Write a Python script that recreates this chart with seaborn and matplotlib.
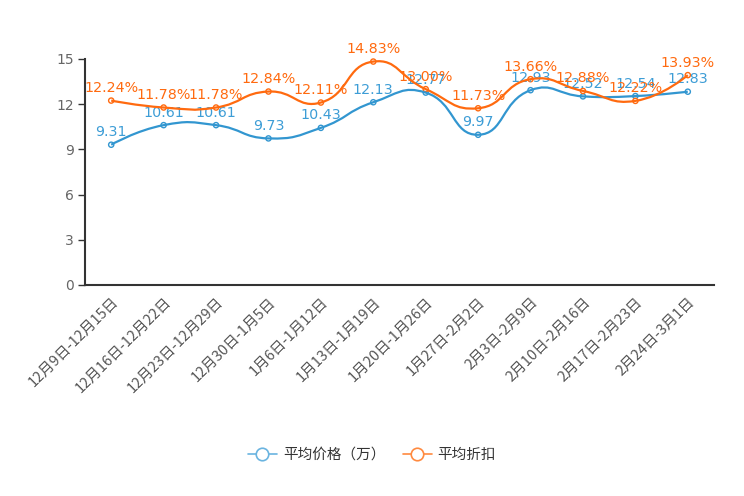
import numpy as np
import pandas as pd
import matplotlib
matplotlib.use("Agg")
import matplotlib.pyplot as plt
from matplotlib.path import Path
from matplotlib.patches import PathPatch
from matplotlib.lines import Line2D
import seaborn as sns

categories = ["12月9日-12月15日", "12月16日-12月22日", "12月23日-12月29日", "12月30日-1月5日",
              "1月6日-1月12日", "1月13日-1月19日", "1月20日-1月26日", "1月27日-2月2日",
              "2月3日-2月9日", "2月10日-2月16日", "2月17日-2月23日", "2月24日-3月1日"]
price = [9.31, 10.61, 10.61, 9.73, 10.43, 12.13, 12.77, 9.97, 12.93, 12.52, 12.54, 12.83]
discount = [12.24, 11.78, 11.78, 12.84, 12.11, 14.83, 13.00, 11.73, 13.66, 12.88, 12.22, 13.93]
series_names = ["平均价格（万）", "平均折扣"]
yticks = [0, 3, 6, 9, 12, 15]

BLUE = "#3296d0"
ORANGE = "#ff6a0f"

sns.set_theme(style="white")
plt.rcParams['font.family'] = ['DejaVu Sans', 'Noto Sans CJK SC']
plt.rcParams['axes.unicode_minus'] = False

fig = plt.figure(figsize=(7.44, 4.96), dpi=100)
ax = fig.add_axes([85/744, 211/496, 629/744, 226/496])

n = len(categories)
xs = np.arange(n)
ax.set_xlim(-0.5, n - 0.5)
ax.set_ylim(0, 15)


def smooth_path(x, y, smooth=0.5):
    # echarts-like bezier smoothing computed in display space
    pts = ax.transData.transform(np.column_stack([x, y]))
    m = len(pts)
    verts = [pts[0]]
    codes = [Path.MOVETO]
    prev_cp = [None] * m
    next_cp = [None] * m
    for i in range(m):
        p = pts[i]
        if i == 0 or i == m - 1:
            prev_cp[i] = p
            next_cp[i] = p
            continue
        pp, pn = pts[i - 1], pts[i + 1]
        v = pn - pp
        l0 = np.hypot(*(p - pp))
        l1 = np.hypot(*(pn - p))
        r = l1 / (l0 + l1)
        prev_cp[i] = p - v * smooth * (1 - r)
        next_cp[i] = p + v * smooth * r
    for i in range(m - 1):
        verts += [next_cp[i], prev_cp[i + 1], pts[i + 1]]
        codes += [Path.CURVE4] * 3
    return Path(verts, codes)


df = pd.DataFrame({"x": np.concatenate([xs, xs]),
                   "y": price + discount,
                   "s": [series_names[0]] * n + [series_names[1]] * n})

for vals, col in [(price, BLUE), (discount, ORANGE)]:
    path = smooth_path(xs, vals)
    patch = PathPatch(path, facecolor="none", edgecolor=col, lw=1.6,
                      transform=None, zorder=2)
    fig.add_artist(patch)

sns.scatterplot(data=df, x="x", y="y", hue="s", palette=[BLUE, ORANGE],
                facecolor="white", s=14, linewidth=1.0, ax=ax, zorder=3,
                legend=False, clip_on=False)
coll = ax.collections[-1]
coll.set_facecolor("white")
coll.set_edgecolor([BLUE] * n + [ORANGE] * n)

for x, v in zip(xs, price):
    ax.annotate(f"{v:.2f}", (x, v), xytext=(0, 4), textcoords="offset points",
                ha="center", va="bottom", color="#3d9dd6", fontsize=10.3, zorder=4)
for x, v in zip(xs, discount):
    ax.annotate(f"{v:.2f}%", (x, v), xytext=(0, 4), textcoords="offset points",
                ha="center", va="bottom", color=ORANGE, fontsize=10.3, zorder=4)

ax.set_yticks(yticks)
ax.set_yticklabels([str(t) for t in yticks], color="#666666", fontsize=10)
ax.set_xticks(xs)
ax.set_xticklabels(categories, rotation=45, ha="right", rotation_mode="anchor",
                   color="#555555", fontsize=10.5, family=['Noto Sans CJK SC', 'DejaVu Sans'])
ax.set_xticks(np.arange(n + 1) - 0.5, minor=True)
ax.tick_params(axis="x", which="major", length=0, pad=7)
ax.tick_params(axis="x", which="minor", length=5, color="#555555", width=1)
ax.tick_params(axis="y", which="major", length=5, color="#333333", width=1, left=True, pad=3)
ax.set_xlabel("")
ax.set_ylabel("")
for s in ["top", "right"]:
    ax.spines[s].set_visible(False)
ax.spines["left"].set_color("#333333")
ax.spines["left"].set_linewidth(1.5)
ax.spines["bottom"].set_color("#333333")
ax.spines["bottom"].set_linewidth(1.5)
ax.grid(False)

handles = [Line2D([], [], color="#6ab4e0", lw=1.2, marker="o", markersize=9,
                  markerfacecolor="white", markeredgecolor="#6ab4e0", markeredgewidth=1.2),
           Line2D([], [], color="#ff8a40", lw=1.2, marker="o", markersize=9,
                  markerfacecolor="white", markeredgecolor="#ff8a40", markeredgewidth=1.2)]
fig.legend(handles, series_names, loc="center", bbox_to_anchor=(0.5, 1 - 455/496),
           ncol=2, frameon=False, handlelength=2.0, columnspacing=1.2, handletextpad=0.4,
           prop={"family": ['Noto Sans CJK SC', 'DejaVu Sans'], "size": 10.5},
           labelcolor="#333333")

fig.savefig("out.png", dpi=100)
